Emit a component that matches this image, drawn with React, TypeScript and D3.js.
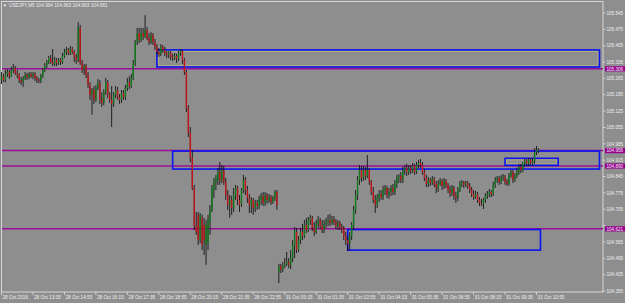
import React from 'react';
import * as d3 from 'd3';

const opens = [
105.258,105.275,105.258,105.284,105.292,105.275,105.301,105.310,105.288,105.280,
105.258,105.249,105.267,105.280,105.271,105.284,105.275,105.284,105.267,105.258,
105.254,105.275,105.301,105.318,105.335,105.352,105.335,105.327,105.344,105.331,
105.344,105.335,105.361,105.378,105.387,105.374,105.391,105.378,105.357,105.344,
105.481,105.331,105.301,105.318,105.280,105.237,105.194,105.215,105.173,105.224,
105.245,105.173,105.160,105.206,105.249,105.194,105.173,105.156,105.194,105.215,
105.185,105.173,105.202,105.185,105.224,105.249,105.232,105.267,105.331,105.421,
105.459,105.429,105.459,105.442,105.472,105.438,105.421,105.451,105.421,105.400,
105.378,105.370,105.400,105.387,105.374,105.365,105.374,105.357,105.352,105.361,
105.348,105.374,105.382,105.344,105.292,105.138,105.031,104.924,104.796,104.633,
104.681,104.573,104.668,104.638,104.552,104.564,104.650,104.702,104.787,104.822,
104.830,104.864,104.830,104.873,104.822,104.766,104.723,104.745,104.710,104.762,
104.796,104.745,104.728,104.787,104.830,104.787,104.753,104.723,104.745,104.710,
104.732,104.719,104.745,104.762,104.732,104.766,104.745,104.757,104.736,104.753,
104.779,104.436,104.462,104.445,104.462,104.471,104.479,104.467,104.496,104.547,
104.608,104.530,104.573,104.608,104.590,104.638,104.616,104.659,104.668,104.625,
104.608,104.642,104.659,104.633,104.616,104.642,104.650,104.659,104.646,104.663,
104.650,104.633,104.646,104.629,104.620,104.590,104.573,104.556,104.590,104.633,
104.702,104.766,104.830,104.873,104.839,104.873,104.847,104.873,104.822,104.779,
104.745,104.723,104.753,104.770,104.757,104.787,104.796,104.766,104.779,104.796,
104.779,104.813,104.839,104.847,104.830,104.873,104.882,104.864,104.882,104.869,
104.890,104.864,104.894,104.903,104.894,104.864,104.839,104.813,104.830,104.817,
104.834,104.813,104.796,104.813,104.826,104.805,104.826,104.809,104.787,104.774,
104.796,104.762,104.753,104.787,104.813,104.822,104.809,104.817,104.805,104.787,
104.770,104.757,104.770,104.745,104.732,104.728,104.745,104.762,104.770,104.779,
104.770,104.809,104.830,104.839,104.822,104.839,104.843,104.822,104.813,104.847,
104.864,104.830,104.847,104.864,104.886,104.873,104.899,104.912,104.903,104.916,
104.903,104.912,104.950,104.955,
];

const highs = [
105.292,105.284,105.301,105.305,105.301,105.314,105.327,105.318,105.301,105.288,
105.271,105.275,105.292,105.288,105.292,105.292,105.292,105.292,105.275,105.267,
105.284,105.310,105.331,105.344,105.361,105.365,105.391,105.357,105.352,105.352,
105.352,105.374,105.391,105.400,105.395,105.404,105.400,105.387,105.370,105.506,
105.494,105.344,105.327,105.327,105.292,105.249,105.224,105.232,105.237,105.262,
105.258,105.206,105.219,105.267,105.258,105.206,105.232,105.206,105.232,105.228,
105.198,105.215,105.215,105.237,105.267,105.275,105.284,105.344,105.429,105.481,
105.481,105.481,105.481,105.536,105.485,105.459,105.464,105.459,105.434,105.412,
105.395,105.412,105.408,105.400,105.382,105.382,105.382,105.370,105.374,105.370,
105.382,105.391,105.387,105.352,105.301,105.151,105.057,104.959,104.809,104.693,
104.693,104.689,104.681,104.668,104.659,104.681,104.723,104.809,104.839,104.852,
104.882,104.907,104.894,104.890,104.839,104.787,104.766,104.762,104.796,104.809,
104.805,104.766,104.796,104.852,104.843,104.805,104.770,104.757,104.753,104.745,
104.745,104.762,104.774,104.779,104.779,104.774,104.770,104.766,104.762,104.787,
104.787,104.471,104.471,104.479,104.496,104.522,104.496,104.530,104.573,104.629,
104.625,104.590,104.625,104.642,104.659,104.668,104.672,104.681,104.676,104.650,
104.659,104.676,104.668,104.659,104.659,104.668,104.681,104.685,104.676,104.676,
104.663,104.659,104.655,104.642,104.633,104.608,104.590,104.608,104.650,104.719,
104.787,104.847,104.894,104.890,104.890,104.886,104.937,104.882,104.830,104.800,
104.766,104.770,104.787,104.787,104.805,104.809,104.805,104.796,104.809,104.813,
104.830,104.852,104.856,104.864,104.886,104.894,104.899,104.894,104.894,104.903,
104.899,104.907,104.916,104.920,104.907,104.877,104.852,104.843,104.839,104.847,
104.843,104.826,104.830,104.839,104.834,104.839,104.834,104.817,104.805,104.809,
104.805,104.779,104.800,104.826,104.830,104.826,104.826,104.826,104.817,104.800,
104.787,104.783,104.779,104.757,104.749,104.753,104.774,104.783,104.792,104.787,
104.822,104.843,104.847,104.847,104.852,104.856,104.852,104.834,104.860,104.873,
104.873,104.860,104.882,104.899,104.899,104.907,104.920,104.920,104.924,104.924,
104.924,104.967,104.976,104.967,
];

const lows = [
105.241,105.249,105.249,105.271,105.262,105.271,105.288,105.280,105.267,105.245,
105.237,105.228,105.258,105.258,105.262,105.267,105.262,105.254,105.245,105.245,
105.245,105.267,105.292,105.310,105.327,105.327,105.318,105.318,105.318,105.323,
105.323,105.327,105.352,105.365,105.365,105.365,105.370,105.335,105.327,105.335,
105.323,105.288,105.280,105.267,105.224,105.173,105.109,105.156,105.164,105.215,
105.156,105.143,105.151,105.194,105.181,105.160,105.057,105.143,105.181,105.173,
105.156,105.160,105.173,105.173,105.211,105.219,105.224,105.258,105.318,105.408,
105.416,105.421,105.429,105.438,105.429,105.408,105.412,105.408,105.387,105.365,
105.357,105.361,105.374,105.361,105.352,105.352,105.344,105.340,105.344,105.331,
105.340,105.361,105.327,105.280,105.121,105.014,104.907,104.787,104.616,104.595,
104.552,104.560,104.530,104.509,104.467,104.530,104.595,104.693,104.753,104.787,
104.809,104.809,104.817,104.809,104.745,104.702,104.668,104.681,104.693,104.745,
104.723,104.693,104.715,104.774,104.766,104.732,104.689,104.689,104.681,104.693,
104.702,104.706,104.723,104.719,104.719,104.728,104.732,104.723,104.728,104.740,
104.702,104.389,104.432,104.436,104.453,104.462,104.453,104.449,104.479,104.496,
104.517,104.522,104.556,104.573,104.582,104.603,104.608,104.638,104.612,104.590,
104.599,104.625,104.620,104.603,104.603,104.625,104.633,104.633,104.638,104.638,
104.620,104.616,104.616,104.603,104.573,104.552,104.526,104.530,104.573,104.616,
104.685,104.745,104.809,104.822,104.826,104.830,104.839,104.809,104.766,104.732,
104.689,104.710,104.736,104.745,104.745,104.766,104.753,104.749,104.762,104.766,
104.766,104.796,104.817,104.817,104.817,104.852,104.847,104.852,104.856,104.860,
104.852,104.856,104.882,104.882,104.852,104.826,104.800,104.800,104.805,104.809,
104.800,104.774,104.779,104.805,104.787,104.792,104.796,104.774,104.757,104.762,
104.745,104.732,104.740,104.779,104.800,104.796,104.800,104.792,104.774,104.757,
104.745,104.749,104.732,104.719,104.719,104.706,104.732,104.749,104.757,104.757,
104.762,104.796,104.817,104.809,104.813,104.826,104.809,104.805,104.805,104.839,
104.817,104.822,104.839,104.852,104.860,104.864,104.886,104.890,104.890,104.894,
104.890,104.899,104.937,104.946,
];

const closes = [
105.275,105.258,105.284,105.292,105.275,105.301,105.310,105.288,105.280,105.258,
105.249,105.267,105.280,105.271,105.284,105.275,105.284,105.267,105.258,105.254,
105.275,105.301,105.318,105.335,105.352,105.335,105.327,105.344,105.331,105.344,
105.335,105.361,105.378,105.387,105.374,105.391,105.378,105.357,105.344,105.485,
105.331,105.301,105.318,105.280,105.237,105.194,105.215,105.173,105.224,105.245,
105.173,105.160,105.206,105.249,105.194,105.173,105.156,105.194,105.215,105.185,
105.173,105.202,105.185,105.224,105.249,105.232,105.267,105.331,105.421,105.459,
105.429,105.459,105.442,105.472,105.438,105.421,105.451,105.421,105.400,105.378,
105.370,105.400,105.387,105.374,105.365,105.374,105.357,105.352,105.361,105.348,
105.374,105.382,105.344,105.292,105.138,105.031,104.924,104.796,104.633,104.608,
104.573,104.681,104.552,104.573,104.638,104.659,104.702,104.796,104.822,104.839,
104.864,104.830,104.873,104.822,104.766,104.723,104.745,104.710,104.766,104.796,
104.745,104.723,104.787,104.830,104.787,104.753,104.723,104.745,104.710,104.732,
104.719,104.749,104.762,104.732,104.766,104.745,104.757,104.736,104.753,104.779,
104.723,104.462,104.445,104.462,104.471,104.479,104.467,104.496,104.552,104.616,
104.530,104.573,104.608,104.590,104.638,104.616,104.659,104.668,104.625,104.608,
104.642,104.659,104.633,104.616,104.642,104.650,104.659,104.646,104.663,104.650,
104.633,104.646,104.629,104.620,104.590,104.573,104.556,104.590,104.638,104.702,
104.766,104.830,104.873,104.839,104.873,104.847,104.873,104.822,104.779,104.745,
104.723,104.753,104.770,104.757,104.787,104.796,104.766,104.779,104.796,104.779,
104.813,104.839,104.847,104.830,104.873,104.882,104.864,104.882,104.869,104.890,
104.864,104.894,104.903,104.894,104.864,104.839,104.813,104.830,104.817,104.834,
104.813,104.796,104.813,104.826,104.805,104.826,104.809,104.787,104.774,104.796,
104.762,104.753,104.787,104.813,104.822,104.809,104.817,104.805,104.787,104.770,
104.757,104.770,104.745,104.732,104.728,104.745,104.762,104.770,104.779,104.770,
104.809,104.830,104.839,104.822,104.839,104.843,104.822,104.813,104.847,104.864,
104.830,104.847,104.864,104.886,104.873,104.899,104.912,104.903,104.916,104.903,
104.912,104.950,104.959,104.961,
];

const timeLabels = [
  '28 Oct 2016', '28 Oct 13:35', '28 Oct 14:55', '28 Oct 16:15', '28 Oct 17:35',
  '28 Oct 18:55', '28 Oct 20:15', '28 Oct 21:35', '28 Oct 22:55', '31 Oct 00:15',
  '31 Oct 01:35', '31 Oct 02:55', '31 Oct 04:15', '31 Oct 05:35', '31 Oct 06:55',
  '31 Oct 08:15', '31 Oct 09:35', '31 Oct 10:55',
];
const timeLabelBars = [0, 16, 32, 48, 64, 80, 96, 112, 128, 144, 160, 176, 192, 208, 224, 240, 256, 272];

const priceTicks = [
  105.545, 105.475, 105.405, 105.335, 105.265, 105.195, 105.125, 105.055, 104.985,
  104.915, 104.845, 104.775, 104.705, 104.635, 104.565, 104.495, 104.425, 104.355,
];

const levelPrices = [105.306, 104.956, 104.890, 104.621];

const boxStartBar = [79, 87, 256, 176];
const boxEndBar = [304, 304, 283, 274];
const boxHigh = [105.387, 104.954, 104.923, 104.618];
const boxLow = [105.314, 104.877, 104.893, 104.530];
const boxInner = [true, false, true, false];

const symbolTitle = 'USDJPY,M5';
const titleQuotes = [104.964, 104.963, 104.963, 104.961];

const W = 625;
const H = 303;
const BG = '#8e8e8e';
const FG = '#eeeeee';
const FONT = "'Liberation Sans', Arial, sans-serif";

export default function App() {
  const x = d3.scaleLinear().domain([0, 273]).range([1.5, 538.5]);
  const y = d3.scaleLinear().domain([104.355, 105.545]).range([291, 13]);
  const plotRight = 603;
  const plotBottom = 292;
  const fmt = d3.format('.3f');
  // tick labels hidden behind a level's highlighted label (as in the terminal)
  const visibleTicks = priceTicks.filter((p) => levelPrices.every((l) => Math.abs(y(l) - y(p)) > 5.5));

  return (
    <svg width={W} height={H} style={{ position: 'absolute', left: 0, top: 0, display: 'block' }}
      xmlns="http://www.w3.org/2000/svg">
      <rect x={0} y={0} width={W} height={H} fill={BG} />
      <rect x={1.5} y={1.5} width={plotRight - 1.5} height={plotBottom - 1.5} fill="none" stroke="#d6d6d6" strokeWidth={1} />

      {levelPrices.map((p, k) => (
        <line key={'lv' + k} x1={2} x2={plotRight} y1={y(p)} y2={y(p)} stroke="#9a0f98" strokeWidth={1.5} />
      ))}

      {boxStartBar.map((b, k) => {
        const x0 = x(b), x1 = x(boxEndBar[k]);
        const y0 = y(boxHigh[k]), y1 = y(boxLow[k]);
        return (
          <g key={'bx' + k}>
            {boxInner[k] && (
              <rect x={x0 + 1.5} y={y0 + 1.5} width={x1 - x0 - 3} height={y1 - y0 - 3} fill="none" stroke="#b9b77a" strokeWidth={0.8} />
            )}
            <rect x={x0} y={y0} width={x1 - x0} height={y1 - y0} fill="none" stroke="#0a14f0" strokeWidth={1.6} />
          </g>
        );
      })}

      {opens.map((o, i) => {
        const c = closes[i];
        const hi = Math.max(highs[i], o, c);
        const lo = Math.min(lows[i], o, c);
        const cx = x(i);
        const top = y(Math.max(o, c));
        const bot = y(Math.min(o, c));
        const up = c >= o;
        return (
          <g key={'c' + i}>
            <line x1={cx} x2={cx} y1={y(hi)} y2={y(lo)} stroke="#0d0d0d" strokeWidth={0.85} />
            <rect x={cx - 0.7} y={top} width={1.4} height={Math.max(0.8, bot - top)} fill={up ? '#0f7a1c' : '#c0141a'} />
          </g>
        );
      })}

      <text x={2.5} y={7.2} fontFamily={FONT} fontSize={4.6} fill={FG}>▼</text>
      <text x={9} y={7.2} fontFamily={FONT} fontSize={4.7} fill={FG}>
        {symbolTitle + '  ' + titleQuotes.map(fmt).join(' ')}
      </text>

      {priceTicks.map((p, k) => (
        <line key={'ptk' + k} x1={plotRight} x2={plotRight + 2.5} y1={y(p)} y2={y(p)} stroke="#e0e0e0" strokeWidth={0.8} />
      ))}
      {visibleTicks.map((p, k) => (
        <text key={'pt' + k} x={606.5} y={y(p) + 1.7} fontFamily={FONT} fontSize={4.6} fill={FG}>{fmt(p)}</text>
      ))}
      {levelPrices.map((p, k) => (
        <g key={'lb' + k}>
          <rect x={605} y={y(p) - 2.6} width={20} height={5.2} fill="#96008f" />
          <text x={606.5} y={y(p) + 1.7} fontFamily={FONT} fontSize={4.6} fill="#f4f4f4">{fmt(p)}</text>
        </g>
      ))}

      {timeLabelBars.map((b, k) => (
        <g key={'tl' + k}>
          <line x1={x(b)} x2={x(b)} y1={plotBottom} y2={plotBottom + 3} stroke="#e0e0e0" strokeWidth={0.8} />
          <text x={x(b) + 1} y={299.2} fontFamily={FONT} fontSize={4.7} fill={FG}>{timeLabels[k]}</text>
        </g>
      ))}
    </svg>
  );
}
